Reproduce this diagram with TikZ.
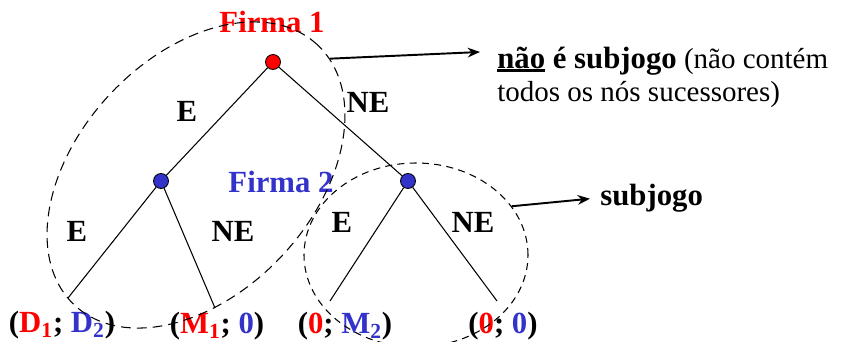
\documentclass[tikz,border=0pt]{standalone}
\usepackage{fontspec}
\setmainfont{Liberation Serif}
\usetikzlibrary{arrows.meta,shapes.geometric}
\definecolor{firmred}{RGB}{255,0,0}
\definecolor{firmblue}{RGB}{51,51,204}
\newcommand{\diagfont}{\fontsize{17.5}{19.3}\selectfont}
\newcommand{\notefont}{\fontsize{16.5}{19.3}\selectfont}
\tikzset{
    move/.style={line width=0.6pt},
    decision/.style={circle, draw, line width=0.5pt, minimum size=0.3cm,
                     inner sep=0pt},
    action/.style={anchor=base, inner sep=0pt, font=\diagfont\bfseries},
    payoff/.style={action},
    subgame/.style={ellipse, draw, line width=0.6pt, inner sep=0pt},
    flow/.style={-{Stealth[length=7pt, width=5.5pt]}, line width=1.1pt},
    note/.style={anchor=base west, align=left, inner sep=0pt, font=\notefont},
}
\newcommand{\thickul}[1]{\setbox0\hbox{#1}\rlap{\rule[-2.2pt]{\wd0}{1.6pt}}\box0\relax}

\begin{document}
\begin{tikzpicture}
    \path[use as bounding box] (0,0) rectangle (16.82,6.84);

    % players
    \node[decision, fill=firmred] (firm1) at (5.46,5.60) {};
    \node[decision, fill=firmblue] (firm2l) at (3.22,3.22) {};
    \node[decision, fill=firmblue] (firm2r) at (8.16,3.22) {};
    \node[action, text=firmred] (firm1lbl) at (5.44,6.18) {Firma 1};
    \node[action, text=firmblue] (firm2lbl) at (5.62,2.98) {Firma 2};

    % ends of the tree
    \coordinate (endDD) at (1.36,0.88);
    \coordinate (endM0) at (4.30,0.68);
    \coordinate (end0M) at (6.60,0.82);
    \coordinate (end00) at (9.94,0.82);

    \draw[move] (firm1) -- (firm2l);
    \draw[move] (firm1) -- (firm2r);
    \draw[move] (firm2l) -- (endDD);
    \draw[move] (firm2l) -- (endM0);
    \draw[move] (firm2r) -- (end0M);
    \draw[move] (firm2r) -- (end00);

    \node[action] (e1) at (3.74,4.40) {E};
    \node[action] (ne1) at (7.36,4.58) {NE};
    \node[action] (e2) at (1.54,2.00) {E};
    \node[action] (ne2) at (4.66,2.00) {NE};
    \node[action] (e3) at (6.84,2.18) {E};
    \node[action] (ne3) at (9.46,2.18) {NE};

    % payoffs
    \node[payoff] (payDD) at (1.24,0.18)
        {(\textcolor{firmred}{D\textsubscript{1}}; \textcolor{firmblue}{D\textsubscript{2}})};
    \node[payoff] (payM0) at (4.34,0.16)
        {(\textcolor{firmred}{M\textsubscript{1}}; \textcolor{firmblue}{0})};
    \node[payoff] (pay0M) at (6.90,0.17)
        {(\textcolor{firmred}{0}; \textcolor{firmblue}{M\textsubscript{2}})};
    \node[payoff] (pay00) at (10.06,0.17)
        {(\textcolor{firmred}{0}; \textcolor{firmblue}{0})};

    % subgames
    \node[subgame, rotate=47, minimum width=7.12cm, minimum height=4.72cm,
          dash pattern=on 5.5pt off 3.5pt] (sub1) at (3.92,3.34) {};
    \node[subgame, minimum width=4.48cm, minimum height=3.68cm,
          dash pattern=on 4pt off 3pt] (sub2) at (8.32,1.74) {};

    \node[note] (nosub) at (9.94,4.80)
        {{\diagfont\bfseries\thickul{não} é subjogo} (não contém\\todos os nós sucessores)};
    \coordinate (nosubtip) at (9.60,5.80);
    \draw[flow] (sub1.-6) -- (nosubtip);

    \node[note, inner sep=0.2cm, font=\diagfont\bfseries] (sub) at (11.80,2.72) {subjogo};
    \draw[flow] (sub2.27) -- (sub.west);
\end{tikzpicture}
\end{document}
